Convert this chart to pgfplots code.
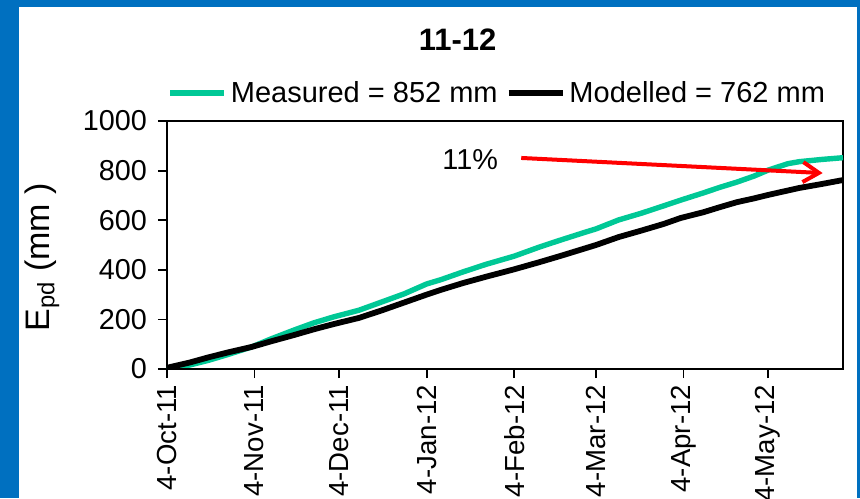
\documentclass[border=0pt]{standalone}
\usepackage{fontspec}
\setmainfont{Liberation Sans}
\usepackage{pgfplots}
\usepackage{pgfplotstable}
\pgfplotsset{compat=1.18}
\usetikzlibrary{arrows.meta}

\definecolor{panelblue}{RGB}{0,112,192}
\definecolor{measgreen}{RGB}{0,200,150}

% cumulative evapotranspiration, days since 4 Oct 2011
\pgfplotstableread{
day val
0 0
8 16
15 36
22 60
30 89
37 122
45 157
52 186
59 210
68 237
76 270
84 303
92 343
97 360
105 392
113 422
123 455
132 492
140 522
148 551
152 565
160 601
168 628
176 658
182 681
190 710
196 733
202 754
208 778
213 802
220 828
224 836
232 845
239.5 852
}\measured

\pgfplotstableread{
day val
0 5
8 26
15 48
22 68
30 89
37 112
45 137
52 160
59 181
68 206
76 236
84 268
92 300
97 319
105 347
113 372
123 402
132 431
140 458
148 486
152 500
160 532
168 558
176 585
182 609
190 632
196 653
202 673
208 688
213 702
224 730
232 746
239.5 762
}\modelled

\begin{document}
\begin{tikzpicture}
% framed panel
\fill[panelblue] (-83.5pt,-64.5pt) rectangle (346.5pt,184.5pt);
\fill[white] (-74pt,-64.5pt) rectangle (345pt,181pt);
\useasboundingbox (-83.5pt,-64.5pt) rectangle (346.5pt,184.5pt);
\begin{axis}[
  at={(0,0)}, anchor=south west,
  width=338pt, height=124pt, scale only axis,
  xmin=0, xmax=239.5, ymin=0, ymax=1000,
  xtick={0,31,61,92,123,152,183,213},
  xticklabels={4-Oct-11,4-Nov-11,4-Dec-11,4-Jan-12,4-Feb-12,4-Mar-12,4-Apr-12,4-May-12},
  ytick={0,200,400,600,800,1000},
  /pgf/number format/assume math mode=true,
  /pgf/number format/set thousands separator={},
  tick label style={font=\fontsize{14.4}{17}\selectfont},
  xticklabel style={rotate=90, anchor=east, xshift=0pt, font=\fontsize{13.8}{16}\selectfont},
  yticklabel style={xshift=-2pt},
  tick align=outside,
  major tick length=4.5pt,
  tick style={black, line width=0.9pt},
  xtick pos=bottom, ytick pos=left,
  axis line style={line width=0.6pt},
  title={\bfseries 11-12},
  title style={font=\fontsize{15.5}{18}\selectfont, at={(0.43,1)}, anchor=center, yshift=34.5pt},
  ylabel={E\textsubscript{pd} (mm )},
  ylabel style={font=\fontsize{17}{20}\selectfont, at={(axis description cs:-0.185,0.45)}, anchor=center, rotate=0},
  legend columns=2,
  legend style={draw=none, fill=none, at={(0.49,1)}, anchor=center, yshift=14pt,
    font=\fontsize{14.5}{17}\selectfont,
    /tikz/every even column/.append style={column sep=2pt},
    inner sep=0pt},
  legend image code/.code={\draw[#1] (0pt,0pt) -- (27pt,0pt);},
]
\addplot[measgreen, line width=2.7pt, line join=round] table[x=day, y=val] {\measured};
\addlegendentry{Measured = 852 mm}
\addplot[black, line width=2.9pt, line join=round] table[x=day, y=val] {\modelled};
\addlegendentry{Modelled = 762 mm}
% percentage difference annotation
\draw[red, line width=2pt, -{Straight Barb[length=8pt, width=10pt, line width=2pt]}]
  (axis cs:125.5,851) -- (axis cs:232.3,790);
\node[font=\fontsize{14.4}{17}\selectfont] at (axis cs:107.4,843) {11\%};
% heavier left and bottom axis lines
\draw[line width=1pt] (rel axis cs:0,1) -- (rel axis cs:0,0) -- (rel axis cs:1,0);
\end{axis}
\end{tikzpicture}
\end{document}
